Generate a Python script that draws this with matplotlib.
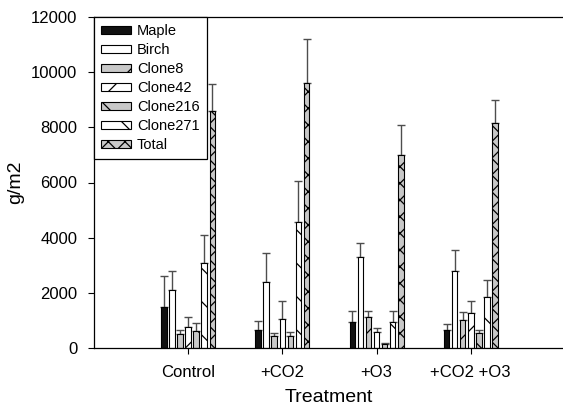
import numpy as np
import matplotlib
matplotlib.use("Agg")
import matplotlib.pyplot as plt

matplotlib.rcParams['hatch.linewidth'] = 0.9
plt.rc('font', family='Liberation Sans')

treatments = ["Control", "+CO2", "+O3", "+CO2 +O3"]
series = ["Maple", "Birch", "Clone8", "Clone42", "Clone216", "Clone271", "Total"]

# mean biomass (g/m2) per treatment, one list per series
maple    = [1500,  660,  930,  640]
birch    = [2100, 2380, 3290, 2790]
clone8   = [ 500,  450, 1110, 1030]
clone42  = [ 750, 1050,  590, 1270]
clone216 = [ 630,  440,  150,  540]
clone271 = [3080, 4580,  930, 1840]
total    = [8580, 9590, 7010, 8160]

# top of the upper error bar
maple_hi    = [2600,  990, 1350,  870]
birch_hi    = [2800, 3440, 3790, 3540]
clone8_hi   = [ 640,  540, 1350, 1300]
clone42_hi  = [1110, 1710,  730, 1690]
clone216_hi = [ 900,  570,  180,  660]
clone271_hi = [4080, 6040, 1350, 2470]
total_hi    = [9570, 11210, 8090, 9000]

means = [maple, birch, clone8, clone42, clone216, clone271, total]
highs = [maple_hi, birch_hi, clone8_hi, clone42_hi, clone216_hi, clone271_hi, total_hi]

gray = '#c8c8c8'
styles = [
    dict(color='#111111', hatch=None),
    dict(color='white', hatch=None),
    dict(color=gray, hatch='/'),
    dict(color='white', hatch='/'),
    dict(color=gray, hatch='\\'),
    dict(color='white', hatch='\\'),
    dict(color=gray, hatch='xx'),
]

fig = plt.figure(figsize=(5.63, 4.09), dpi=100)
ax = fig.add_axes([94/563, 61/409, 469/563, 331/409])

x = np.arange(1, len(treatments) + 1)
pitch = 0.0855
width = 0.06

for i, (name, m, h, st) in enumerate(zip(series, means, highs, styles)):
    pos = x + (i - 3) * pitch
    m = np.array(m)
    up = np.array(h) - m
    ax.bar(pos, m, width, color=st['color'], hatch=st['hatch'],
           edgecolor='black', linewidth=0.8, label=name, zorder=2)
    ax.errorbar(pos, m, yerr=[np.zeros_like(up), up], fmt='none',
                ecolor='0.3', elinewidth=1.0, capsize=3, capthick=1.0, zorder=1)

ax.set_xlim(0, 4.98)
ax.set_ylim(0, 12000)
ax.set_xticks(x)
ax.set_xticklabels(treatments, fontsize=12)
ax.set_yticks(np.arange(0, 12001, 2000))
ax.tick_params(axis='y', labelsize=12, length=4, width=0.8, direction='out', pad=8)
ax.tick_params(axis='x', length=4, width=0.8, direction='out', pad=8)
ax.spines['right'].set_visible(False)
for s in ['top', 'bottom', 'left']:
    ax.spines[s].set_linewidth(0.9)

ax.set_xlabel("Treatment", fontsize=14, labelpad=7)
ax.set_ylabel("g/m2", fontsize=14, labelpad=5)

leg = ax.legend(loc='upper left', borderaxespad=0, fontsize=10.5, fancybox=False,
                edgecolor='black', framealpha=1, handlelength=2.05, handleheight=0.5,
                labelspacing=0.34, handletextpad=0.4, borderpad=0.5)
leg.get_frame().set_linewidth(0.9)
leg.set_zorder(5)

fig.savefig("out.png", dpi=100)
